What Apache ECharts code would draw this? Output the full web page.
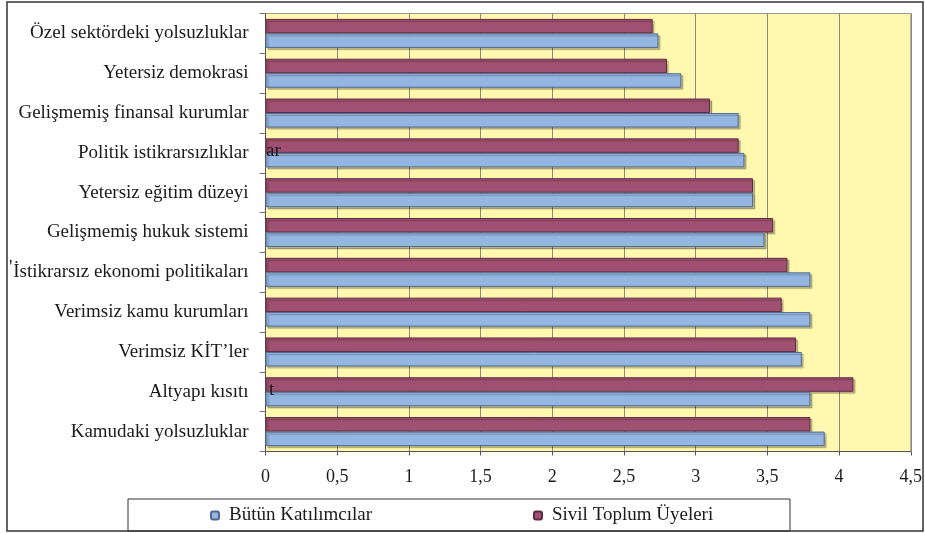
<!DOCTYPE html>
<html>
<head>
<meta charset="utf-8">
<script src="https://cdn.jsdelivr.net/npm/echarts@6/dist/echarts.min.js"></script>
<style>
  html, body { margin: 0; padding: 0; background: #fff; }
  #chart { width: 925px; height: 533px; }
</style>
</head>
<body>
<div id="chart"></div>
<script>
// categories, top to bottom
var categories = [
  'Özel sektördeki yolsuzluklar',
  'Yetersiz demokrasi',
  'Gelişmemiş finansal kurumlar',
  'Politik istikrarsızlıklar',
  'Yetersiz eğitim düzeyi',
  'Gelişmemiş hukuk sistemi',
  'İstikrarsız ekonomi politikaları',
  'Verimsiz kamu kurumları',
  'Verimsiz KİT’ler',
  'Altyapı kısıtı',
  'Kamudaki yolsuzluklar'
];
var butunKatilimcilar = [2.74, 2.9, 3.3, 3.34, 3.4, 3.48, 3.8, 3.8, 3.74, 3.8, 3.9];
var sivilToplum = [2.7, 2.8, 3.1, 3.3, 3.4, 3.54, 3.64, 3.6, 3.7, 4.1, 3.8];
var seriesNames = ['Bütün Katılımcılar', 'Sivil Toplum Üyeleri'];

var font = 'Liberation Serif';
var chart = echarts.init(document.getElementById('chart'));

chart.setOption({
  animation: false,
  textStyle: { fontFamily: font },
  grid: {
    left: 265.5, right: 12.5, top: 13.5, bottom: 81.5,
    show: true, backgroundColor: '#FFF8AE',
    borderColor: '#9a9a8a', borderWidth: 1
  },
  legend: [{
    data: [seriesNames[0]],
    left: 210, top: 506, padding: 0,
    itemWidth: 8, itemHeight: 8,
    textStyle: { fontFamily: font, fontSize: 19, color: '#1a1a1a', padding: [0, 0, 0, 5] }
  }, {
    data: [seriesNames[1]],
    left: 533, top: 506, padding: 0,
    itemWidth: 8, itemHeight: 8,
    textStyle: { fontFamily: font, fontSize: 19, color: '#1a1a1a', padding: [0, 0, 0, 5] }
  }],
  xAxis: {
    type: 'value', min: 0, max: 4.5, interval: 0.5,
    axisLine: { show: true, lineStyle: { color: '#555', width: 1 } },
    axisTick: { show: true, length: 4, lineStyle: { color: '#555' } },
    axisLabel: {
      fontFamily: font, fontSize: 18, color: '#1a1a1a', margin: 17,
      formatter: function (v) { return String(v).replace('.', ','); }
    },
    splitLine: { show: true, lineStyle: { color: '#8c8a7a', width: 1 } }
  },
  yAxis: {
    type: 'category', data: categories, inverse: true,
    axisLine: { show: true, lineStyle: { color: '#555', width: 1 } },
    axisTick: { show: true, length: 6, lineStyle: { color: '#777' } },
    axisLabel: { fontFamily: font, fontSize: 19, color: '#1a1a1a', margin: 17 }
  },
  series: [{
    name: seriesNames[1], type: 'bar', data: sivilToplum,
    barWidth: 14.5, barGap: '0%',
    itemStyle: {
      color: '#A05070', borderColor: '#5e2a44', borderWidth: 1,
      shadowColor: 'rgba(0,0,0,0.25)', shadowOffsetX: 2, shadowOffsetY: 2, shadowBlur: 1
    }
  }, {
    name: seriesNames[0], type: 'bar', data: butunKatilimcilar,
    barWidth: 14.5, barGap: '0%',
    itemStyle: {
      color: '#95B6E0', borderColor: '#4f6a95', borderWidth: 1,
      shadowColor: 'rgba(0,0,0,0.25)', shadowOffsetX: 2, shadowOffsetY: 2, shadowBlur: 1
    }
  }],
  graphic: [
    { type: 'rect', z: -1, shape: { x: 7, y: 2, width: 916, height: 529 },
      style: { fill: 'none', stroke: '#333', lineWidth: 1.5 } },
    { type: 'rect', shape: { x: 128, y: 499, width: 662, height: 32 },
      style: { fill: 'none', stroke: '#333', lineWidth: 1 } },
    { type: 'text', z: 100, left: 266, top: 142,
      style: { text: 'ar', font: '19px "Liberation Serif"', fill: '#1a1a1a' } },
    { type: 'text', z: 100, left: 9, top: 259,
      style: { text: '\'', font: '19px "Liberation Serif"', fill: '#1a1a1a' } },
    { type: 'text', z: 100, left: 269, top: 381,
      style: { text: 't', font: '19px "Liberation Serif"', fill: '#1a1a1a' } }
  ]
});
</script>
</body>
</html>
